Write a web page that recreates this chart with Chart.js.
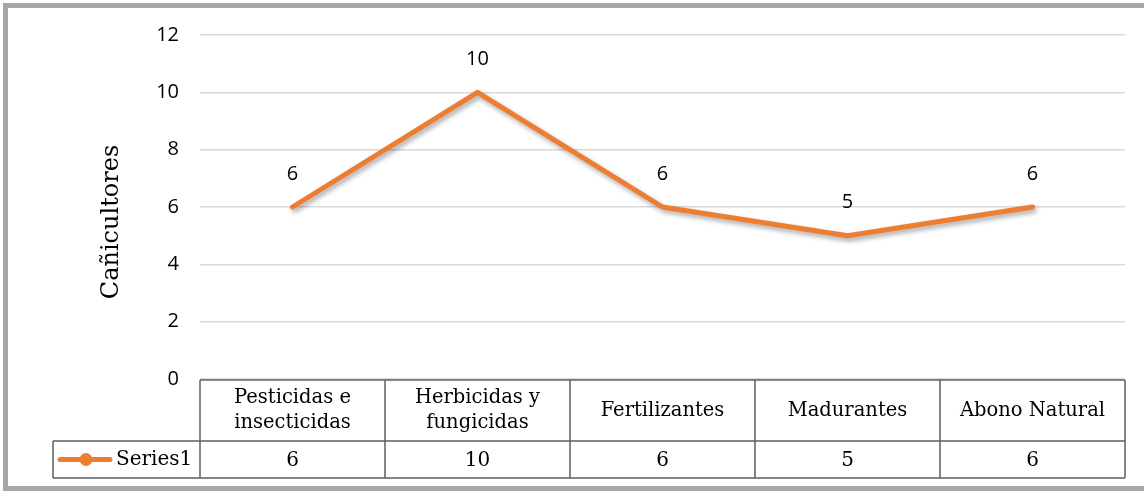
<!DOCTYPE html>
<html><head><meta charset="utf-8">
<script src="https://cdn.jsdelivr.net/npm/chart.js@4.4.0/dist/chart.umd.min.js"></script>
<style>html,body{margin:0;padding:0;background:#fff}#wrap{width:1144px;height:492px;position:relative}</style>
</head><body><div id="wrap"><canvas id="c" width="1144" height="492"></canvas></div>
<script>
const categories = [["Pesticidas e","insecticidas"],["Herbicidas y","fungicidas"],["Fertilizantes"],["Madurantes"],["Abono Natural"]];
const seriesName = "Series1";
const values = [6, 10, 6, 5, 6];
const yTitle = "Cañicultores";
const ORANGE = "#ED7D31";
const SERIF = "'DejaVu Serif', 'Liberation Serif', serif";
const SANS = "'Open Sans', 'Liberation Sans', sans-serif";

const framePlugin = {
  id: 'frame',
  beforeDraw(chart) {
    const ctx = chart.ctx;
    ctx.save();
    ctx.fillStyle = '#fff';
    ctx.fillRect(0, 0, chart.width, chart.height);
    ctx.strokeStyle = '#a6a6a6';
    ctx.lineWidth = 5;
    ctx.strokeRect(5.5, 5.5, chart.width + 10, chart.height - 9);
    ctx.restore();
  }
};

const shadowPlugin = {
  id: 'shadow',
  beforeDatasetDraw(chart) {
    const ctx = chart.ctx;
    ctx.save();
    ctx.shadowColor = 'rgba(0,0,0,0.35)';
    ctx.shadowBlur = 5;
    ctx.shadowOffsetX = 2;
    ctx.shadowOffsetY = 3;
  },
  afterDatasetDraw(chart) { chart.ctx.restore(); }
};

const extrasPlugin = {
  id: 'extras',
  afterDraw(chart) {
    const ctx = chart.ctx;
    const xs = chart.scales.x, ys = chart.scales.y;
    const ca = chart.chartArea;
    const meta = chart.getDatasetMeta(0);
    ctx.save();
    // data labels
    ctx.fillStyle = '#000';
    ctx.font = "20px " + SANS;
    ctx.textAlign = 'center';
    ctx.textBaseline = 'middle';
    meta.data.forEach((p, i) => {
      ctx.fillText(String(values[i]), p.x, p.y - 33);
    });
    // y title
    ctx.save();
    ctx.translate(112, ys.getPixelForValue(6) + 15);
    ctx.rotate(-Math.PI / 2);
    ctx.font = "24px " + SERIF;
    ctx.fillText(yTitle, 0, 0);
    ctx.restore();
    // table
    const n = categories.length;
    const w = (ca.right - ca.left) / n;
    const top = ys.getPixelForValue(0) + 1;
    const mid = top + 61;
    const bot = mid + 37;
    const legL = 53;
    ctx.strokeStyle = '#5f5f5f';
    ctx.lineWidth = 1.5;
    ctx.beginPath();
    ctx.moveTo(ca.left, top); ctx.lineTo(ca.right, top);
    ctx.moveTo(legL, mid); ctx.lineTo(ca.right, mid);
    ctx.moveTo(legL, bot); ctx.lineTo(ca.right, bot);
    ctx.moveTo(legL, mid); ctx.lineTo(legL, bot);
    for (let i = 0; i <= n; i++) {
      const x = ca.left + i * w;
      ctx.moveTo(x, top); ctx.lineTo(x, bot);
    }
    ctx.stroke();
    ctx.fillStyle = '#000';
    ctx.font = "19.5px " + SERIF;
    categories.forEach((lines, i) => {
      const cx = xs.getPixelForValue(i);
      const lh = 25;
      const y0 = (top + mid) / 2 - (lines.length - 1) * lh / 2;
      lines.forEach((t, j) => ctx.fillText(t, cx, y0 + j * lh));
    });
    ctx.font = "20px " + SERIF;
    values.forEach((v, i) => {
      ctx.fillText(String(v), xs.getPixelForValue(i), (mid + bot) / 2 + 1);
    });
    // legend key
    const ly = (mid + bot) / 2;
    ctx.strokeStyle = ORANGE;
    ctx.lineWidth = 5;
    ctx.lineCap = 'round';
    ctx.beginPath(); ctx.moveTo(60, ly); ctx.lineTo(110, ly); ctx.stroke();
    ctx.fillStyle = ORANGE;
    ctx.beginPath(); ctx.arc(86, ly, 6.5, 0, Math.PI * 2); ctx.fill();
    ctx.fillStyle = '#000';
    ctx.textAlign = 'left';
    ctx.font = "20px " + SERIF;
    ctx.fillText(seriesName, 116, ly);
    ctx.restore();
  }
};

new Chart(document.getElementById('c'), {
  type: 'line',
  data: {
    labels: categories.map(c => c.join(' ')),
    datasets: [{
      label: seriesName,
      data: values,
      borderColor: ORANGE,
      backgroundColor: ORANGE,
      borderWidth: 5,
      borderCapStyle: 'round',
      borderJoinStyle: 'round',
      pointRadius: 0,
      pointHoverRadius: 0,
      tension: 0,
      fill: false
    }]
  },
  options: {
    responsive: false,
    animation: false,
    events: [],
    layout: { padding: { top: 35, bottom: 113, left: 0, right: 19 } },
    plugins: { legend: { display: false }, tooltip: { enabled: false } },
    scales: {
      x: { type: 'category', offset: true, display: false },
      y: {
        min: 0, max: 12,
        ticks: { stepSize: 2, color: '#000', padding: 21, font: { size: 20, family: SANS } },
        grid: { color: '#d9d9d9', lineWidth: 1.5, drawTicks: false },
        border: { display: false },
        afterFit(scale) { scale.width = 200; }
      }
    }
  },
  plugins: [framePlugin, shadowPlugin, extrasPlugin]
});
</script></body></html>
